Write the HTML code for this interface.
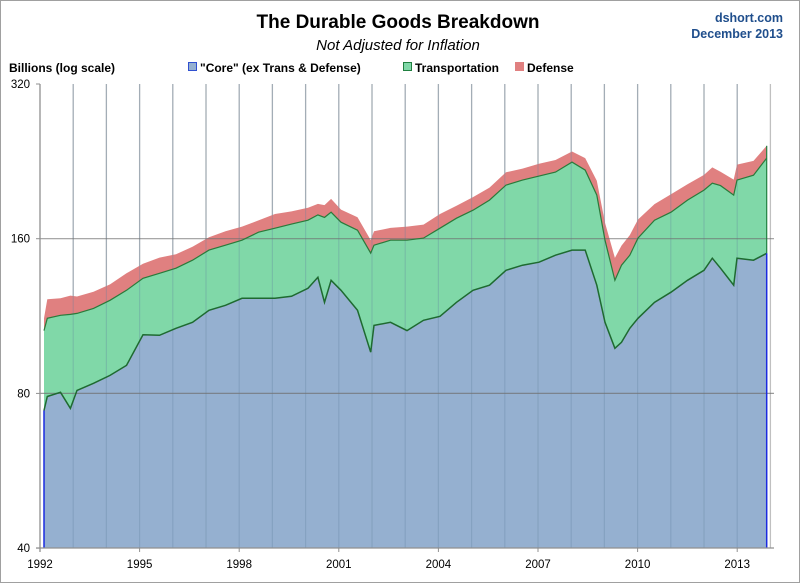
<!DOCTYPE html>
<html><head><meta charset="utf-8"><style>
body{margin:0;background:#fff;}
svg{display:block;font-family:"Liberation Sans",sans-serif;}
</style></head><body>
<svg id="chart" width="800" height="583">
<rect x="0.5" y="0.5" width="799" height="582" fill="#fff" stroke="#a0a0a0"/>
<text x="398" y="28" text-anchor="middle" font-size="19" font-weight="bold" fill="#000">The Durable Goods Breakdown</text>
<text x="398" y="50" text-anchor="middle" font-size="15" font-style="italic" fill="#000">Not Adjusted for Inflation</text>
<text x="783" y="22" text-anchor="end" font-size="12.5" font-weight="bold" fill="#1f4e8c">dshort.com</text>
<text x="783" y="38" text-anchor="end" font-size="12.5" font-weight="bold" fill="#1f4e8c">December 2013</text>
<text x="9" y="72" font-size="12" font-weight="bold" fill="#000">Billions (log scale)</text>
<g>
<g><rect x="188.5" y="62.5" width="8" height="8" fill="#95b0d0" stroke="#3050d0"/><text x="200" y="72" font-size="12" font-weight="bold">"Core" (ex Trans &amp; Defense)</text></g>
<g><rect x="403.5" y="62.5" width="8" height="8" fill="#80d8a8" stroke="#208040"/><text x="415" y="72" font-size="12" font-weight="bold">Transportation</text></g>
<g><rect x="515.5" y="62.5" width="8" height="8" fill="#e08080" stroke="#e08080"/><text x="527" y="72" font-size="12" font-weight="bold">Defense</text></g>
</g>
<g id="grid"></g>
<g id="areas"></g>
<g id="axes"></g>
</svg>
<script>
const dates=[1992.0,1992.1,1992.5,1992.8,1993.0,1993.5,1994.0,1994.5,1995.0,1995.5,1996.0,1996.5,1997.0,1997.5,1998.0,1998.5,1999.0,1999.5,2000.0,2000.3,2000.5,2000.7,2001.0,2001.5,2001.9,2002.0,2002.5,2003.0,2003.5,2004.0,2004.5,2005.0,2005.5,2006.0,2006.5,2007.0,2007.5,2008.0,2008.4,2008.75,2009.0,2009.3,2009.5,2009.75,2010.0,2010.5,2011.0,2011.5,2012.0,2012.25,2012.5,2012.9,2013.0,2013.5,2013.9];
const core=[74.1,78.9,80.4,74.8,81.1,83.7,86.7,90.7,104,103.8,107.1,110,116.1,118.7,122.5,122.5,122.5,123.6,128.1,134.6,120.3,132.8,127,116.1,96.2,108.5,110,106,111,113,120.3,127,129.9,138.9,142.1,144,148.6,152,152,129.9,110,97.9,100.6,107.1,112,120.3,125.9,132.8,138.9,146.6,140.2,129.9,146.6,145.3,149.9];
const transportation=[31.9,33.1,33.1,39.2,33.4,33.4,34.7,36.3,30,33.2,33.1,35.3,35.9,36.7,36.4,42.2,45.2,47.2,45.7,43.4,55.7,47.4,45.3,50.1,53.8,46.9,48.9,52.9,49.4,54.7,55.1,54.8,60.3,64.5,65.9,67.8,67,73.5,65.6,64.6,48.9,34.9,41.5,41.5,48.4,53.5,54.3,57.4,60,58.6,62.8,64.6,61.4,67.4,79.7];
const defense=[6,10,9,10,9,9,9,10,9,10,9,9,9,10,10,9,11,10,10,9,10,11,10,10,9,10,9,10,10,11,10,11,11,12,11,12,12,11,12,13,13,14,13,14,14,13,15,14,14,15,13,14,15,14,13];
const yTicks=[40,80,160,320];
const xTickYears=[1992,1995,1998,2001,2004,2007,2010,2013];

const NS='http://www.w3.org/2000/svg';
const X0=40,X1=774,Y320=84,YPER=154.7,YB=548;
function xs(t){return 44+(t-1992)*33.0;}
function xYear(y){return X0+(y-1992)*33.2;}
function ys(v){return Y320+Math.log2(320/v)*YPER;}
function mk(tag,attrs,parent){const e=document.createElementNS(NS,tag);for(const k in attrs)e.setAttribute(k,attrs[k]);parent.appendChild(e);return e;}

const grid=document.getElementById('grid'),areas=document.getElementById('areas'),axes=document.getElementById('axes');
mk('rect',{x:X0,y:Y320,width:X1-X0,height:YB-Y320,fill:'#fff'},grid);
for(let y=1993;y<=2014;y++){const x=xYear(y);if(x>X1)break;
 const l=mk('line',{x1:x,x2:x,y1:Y320,y2:YB,stroke:'#c0c0c0','stroke-width':1.3},grid);
 
 }

const top1=core,top2=core.map((c,i)=>c+transportation[i]),top3=top2.map((c,i)=>c+defense[i]);
function areaPath(upper,lower){let d='';upper.forEach((v,i)=>{d+=(i?'L':'M')+xs(dates[i]).toFixed(1)+','+ys(v).toFixed(1);});
 for(let i=dates.length-1;i>=0;i--){const yy=lower?ys(lower[i]):YB;d+='L'+xs(dates[i]).toFixed(1)+','+yy.toFixed(1);}return d+'Z';}
function linePath(arr){return arr.map((v,i)=>(i?'L':'M')+xs(dates[i]).toFixed(1)+','+ys(v).toFixed(1)).join('');}
const pd=mk('path',{d:areaPath(top3,top2),fill:'#e08080'},areas);


const pt=mk('path',{d:areaPath(top2,top1),fill:'#80d8a8'},areas);


const pc=mk('path',{d:areaPath(top1,null),fill:'#95b0d0'},areas);


for(let y=1993;y<=2013;y++){const x=xYear(y);
 const l=mk('line',{x1:x,x2:x,y1:Y320,y2:YB,stroke:'#6080a0','stroke-opacity':0.3,'stroke-width':1.2},areas);
 
 }
[80,160].forEach(v=>{const l=mk('line',{x1:X0,x2:X1,y1:ys(v),y2:ys(v),stroke:'#707070','stroke-opacity':0.7,'stroke-width':1.2},areas);
 
 });
const lt=mk('path',{d:linePath(top2),fill:'none',stroke:'#2a7a3a','stroke-width':1.2},areas);


const lc=mk('path',{d:linePath(top1),fill:'none',stroke:'#1e6a30','stroke-width':1.5},areas);


const xa=xs(dates[0]),xb=xs(dates[dates.length-1]);
const el1=mk('line',{x1:xa,x2:xa,y1:ys(top1[0]),y2:YB,stroke:'#1a2ae0','stroke-width':1.5},areas);


const el2=mk('line',{x1:xb,x2:xb,y1:ys(top1[top1.length-1]),y2:YB,stroke:'#1a2ae0','stroke-width':1.5},areas);


const el3=mk('line',{x1:xb,x2:xb,y1:ys(top3[top3.length-1]),y2:ys(top1[top1.length-1]),stroke:'#208040','stroke-width':1.2},areas);



mk('line',{x1:X0,x2:X0,y1:Y320,y2:YB+4,stroke:'#909090','stroke-width':1.3},axes);
mk('line',{x1:X0-4,x2:X1,y1:YB,y2:YB,stroke:'#909090','stroke-width':1.3},axes);
yTicks.forEach(v=>{const y=ys(v);
 mk('line',{x1:X0-4,x2:X0,y1:y,y2:y,stroke:'#909090'},axes);
 const t=mk('text',{x:X0-10,y:y+4,'text-anchor':'end','font-size':11.5,fill:'#000'},axes);
 t.textContent=v;
 
 });
xTickYears.forEach(yr=>{const x=xYear(yr);
 mk('line',{x1:x,x2:x,y1:YB,y2:YB+4,stroke:'#909090'},axes);
 const t=mk('text',{x:x,y:YB+20,'text-anchor':'middle','font-size':11.5,fill:'#000'},axes);
 t.textContent=yr;
 
 });
</script>
</body></html>
